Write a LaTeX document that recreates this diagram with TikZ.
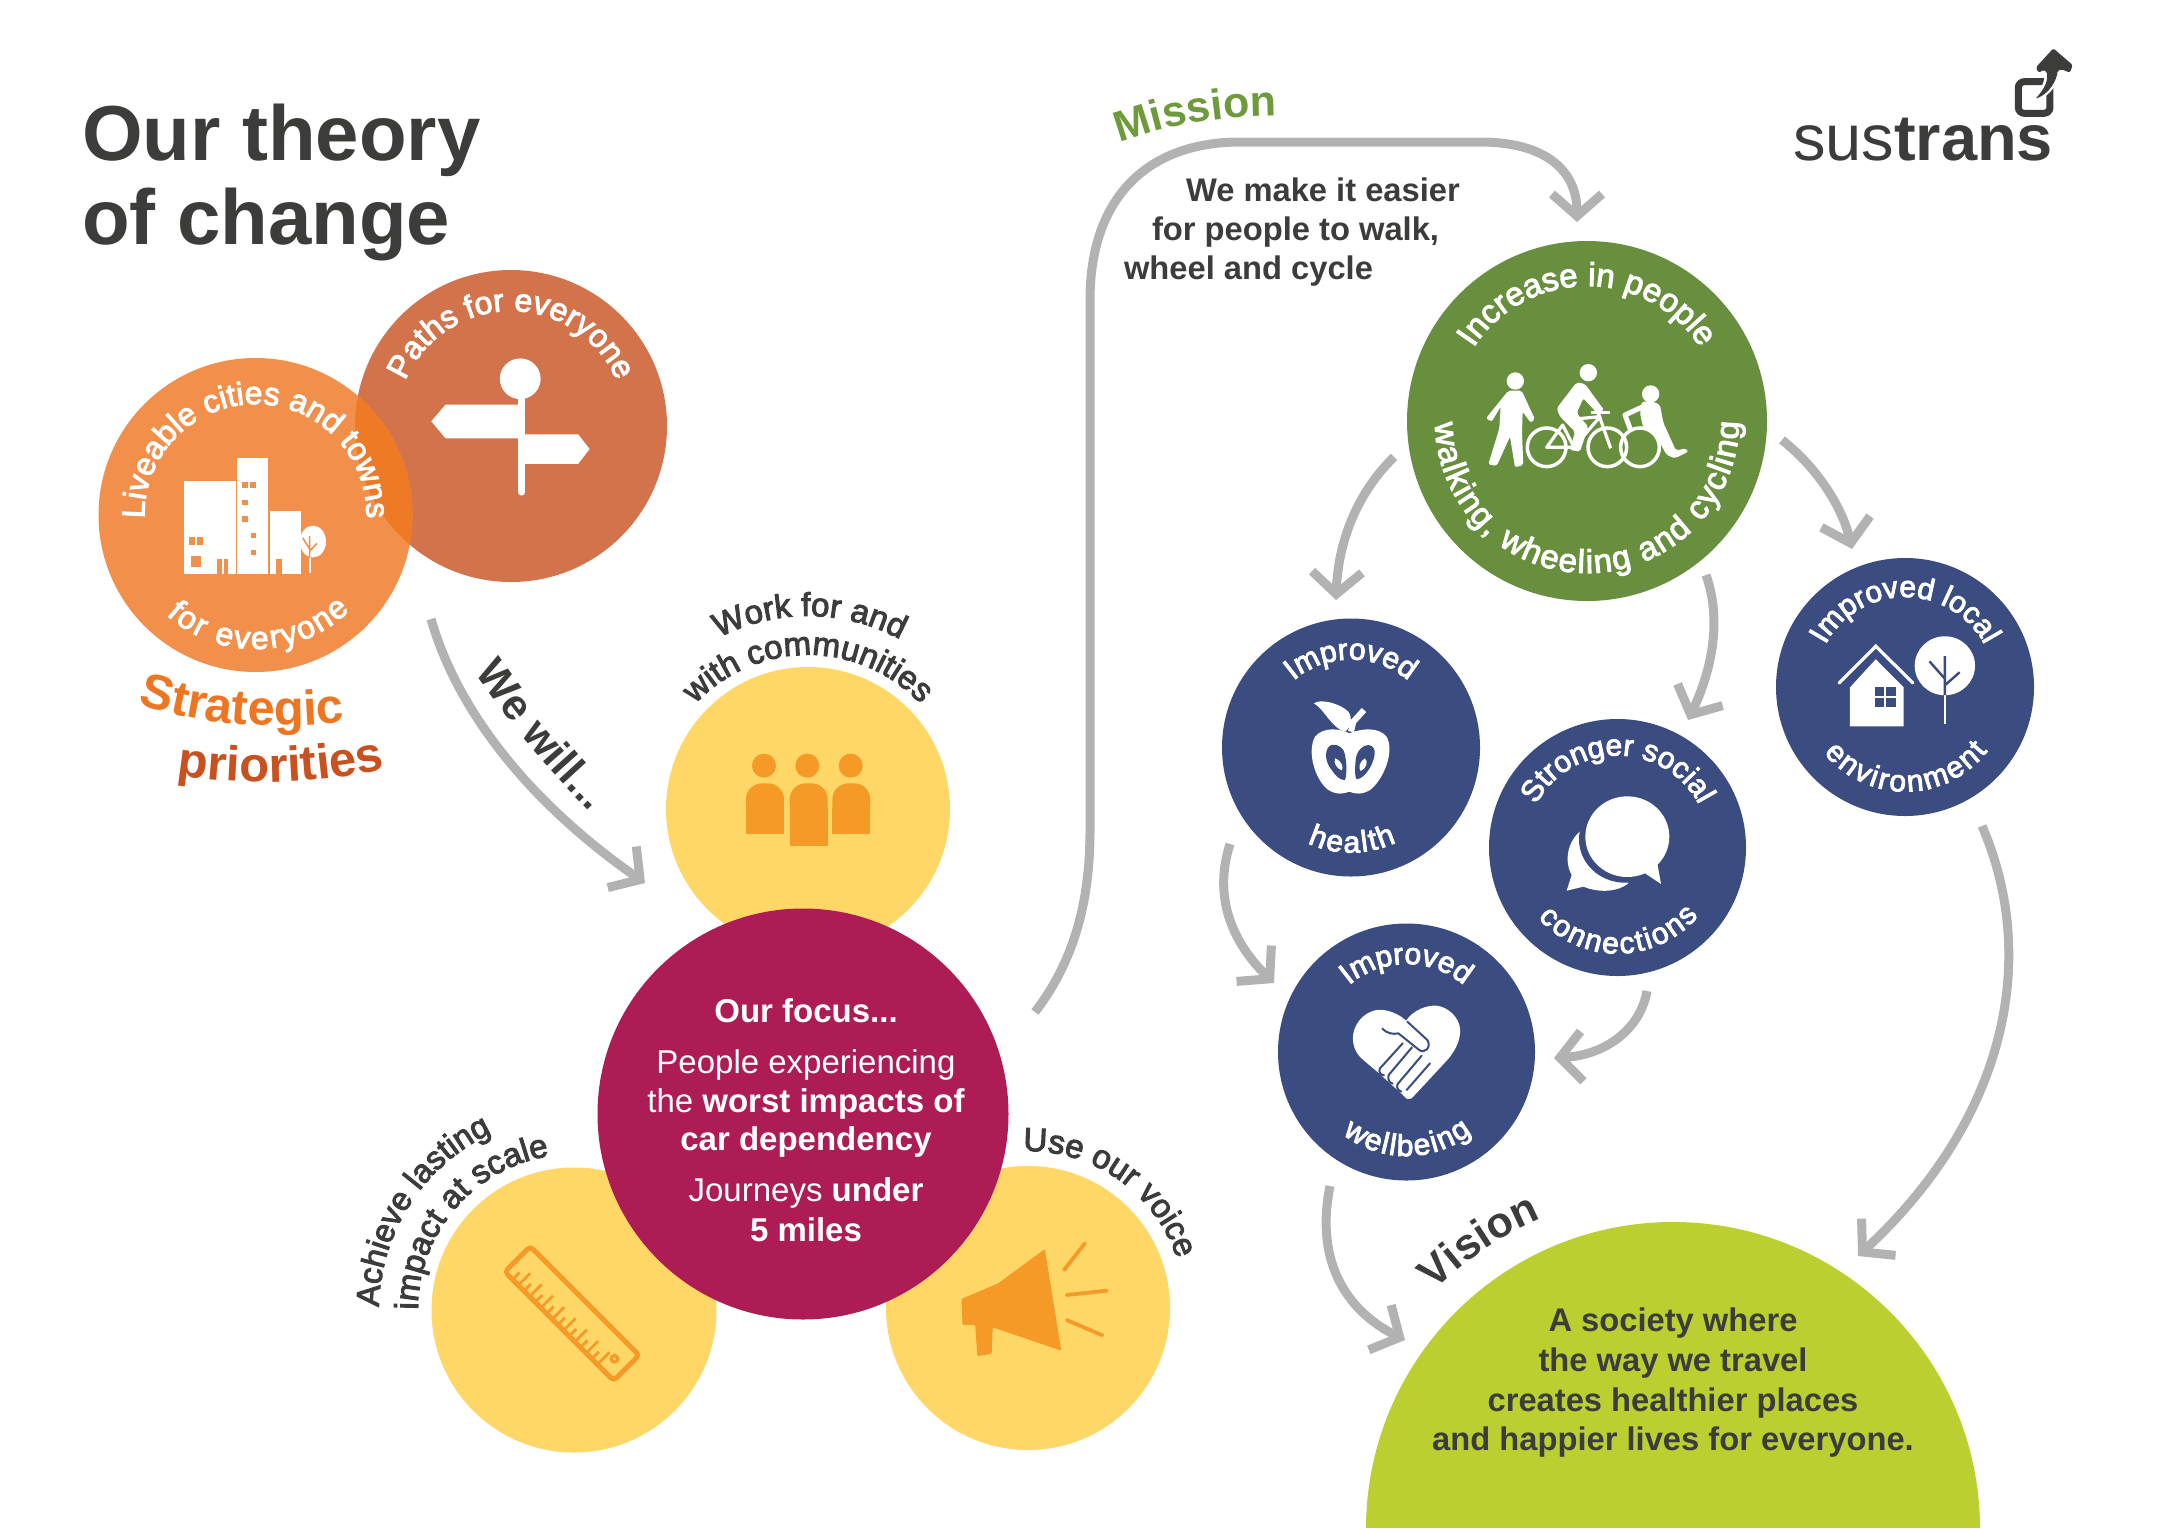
\documentclass[tikz,border=0pt]{standalone}
\usepackage{fontspec}
\setmainfont{Liberation Sans}
\newfontfamily\medf[FakeBold=3]{Liberation Sans}
\usetikzlibrary{arrows.meta,decorations.text}
\definecolor{inkdark}{HTML}{3C3C3B}
\definecolor{liveable}{HTML}{F28F4A}
\definecolor{pathsc}{HTML}{D2734B}
\definecolor{overlapc}{HTML}{EE7A26}
\definecolor{stratA}{HTML}{EE7623}
\definecolor{stratB}{HTML}{C9501F}
\definecolor{yellowc}{HTML}{FED767}
\definecolor{iconor}{HTML}{F59A26}
\definecolor{maroonc}{HTML}{AD1C54}
\definecolor{bluec}{HTML}{3A4C80}
\definecolor{greenc}{HTML}{678F3D}
\definecolor{missionc}{HTML}{6E9A3B}
\definecolor{limec}{HTML}{BBD030}
\definecolor{greyc}{HTML}{B2B2B2}
\newcommand\fz[1]{\fontsize{#1}{#1}\selectfont}
\newcommand\arcTop[7]{\path[x=1pt,y=1pt,decorate,decoration={text along path,text align=center,text={|\color{#6}#5|#7}}] ({#1+#3*cos(#4+110)},{-(#2)+#3*sin(#4+110)}) arc[start angle={#4+110},end angle={#4-110},radius=#3];}
\newcommand\arcBot[7]{\path[x=1pt,y=1pt,decorate,decoration={text along path,text align=center,text={|\color{#6}#5|#7}}] ({#1+#3*cos(#4-110)},{-(#2)+#3*sin(#4-110)}) arc[start angle={#4-110},end angle={#4+110},radius=#3];}
\tikzset{
 bubble/.style={circle,inner sep=0pt,outer sep=0pt,minimum size=#1},
 flow/.style={draw=greyc,line width=9pt,line cap=butt,-{Straight Barb[length=22pt,width=50pt]}},
 lbl/.style={inner sep=0pt,outer sep=0pt,text=inkdark,anchor=base west},
 focustxt/.style={inner sep=0pt,outer sep=0pt,text=white,anchor=base},
 visiontxt/.style={inner sep=0pt,outer sep=0pt,text=inkdark,anchor=base,font=\bfseries\fz{32.7}},
}
\begin{document}
\begin{tikzpicture}[x=1pt,y=-1pt]
\useasboundingbox (0,0) rectangle (2160,1529);
\fill[white] (0,0) rectangle (2160,1529);

% title
\node[lbl,font=\bfseries\fz{78}] (title1) at (82,160) {Our theory};
\node[lbl,font=\bfseries\fz{78}] (title2) at (82,244) {of change};

% strategic circles
\node[bubble=312pt,fill=pathsc] (paths) at (511,426) {};
\node[bubble=314pt,fill=liveable] (live) at (255.5,515) {};
\begin{scope}
\clip (255.5,515) circle[radius=157];
\fill[overlapc] (511,426) circle[radius=156];
\end{scope}
\arcTop{511}{426}{115}{90}{\medf\fz{32}}{white}{Paths for everyone}
\arcTop{255.5}{515}{111}{90}{\medf\fz{32}}{white}{Liveable cities and towns}
\arcBot{255.5}{515}{134}{271}{\medf\fz{32}\kern2.2pt}{white}{for everyone}

% signpost icon
\begin{scope}[shift={(60,240)},xscale=0.408,yscale=0.37]
\fill[white] (1128,375) ellipse[x radius=50,y radius=55];
\draw[white,line width=6.5pt,line cap=round] (1131,400) -- (1131,682);
\fill[white] (910,490) -- (945,445) -- (1122,445) -- (1122,536) -- (945,536) -- cycle;
\fill[white] (1135,525) -- (1270,525) -- (1298,565) -- (1270,605) -- (1135,605) -- cycle;
\end{scope}

% buildings icon
\begin{scope}[shift={(60,240)},xscale=0.408,yscale=0.37]
\fill[white] (305,652) rectangle (431,902);
\fill[white] (435,588) rectangle (510,902);
\fill[white] (515,732) rectangle (590,902);
\fill[white] (620,815) ellipse[x radius=32,y radius=43];
\draw[white,line width=2pt] (612,850) -- (612,900);
\draw[liveable,line width=1.5pt] (612,860) -- (612,800) (612,835) -- (595,805) (612,840) -- (630,820);
\foreach \xa/\ya/\xb/\yb in {317/802/331/825,336/802/350/825,320/855/345/885,385/862/396/902,401/862/412/902,447/655/461/670,466/655/480/670,447/702/460/715,447/747/460/762,467/792/480/805,467/838/480/852,530/862/545/902}
 \fill[liveable] (\xa,\ya) rectangle (\xb,\yb);
\end{scope}

% strategic priorities
\path[decorate,decoration={text along path,text align=center,text={|\color{stratA}\bfseries\fz{49}|Strategic}}]
 (131,702) .. controls (190,722) and (262,732) .. (352,721);
\path[decorate,decoration={text along path,text align=center,text={|\color{stratB}\bfseries\fz{49}|priorities}}]
 (170,774) .. controls (240,787) and (322,784) .. (392,767);

% we will
\coordinate (wewillS) at (431,619);
\coordinate (wewillE) at (645,883);
\draw[flow] (wewillS) .. controls (460,720) and (540,810) .. (wewillE);
\path[decorate,decoration={text along path,text align=center,text={|\color{inkdark}\bfseries\fz{43}|We will...}}]
 (470,666) .. controls (510,725) and (550,772) .. (596,818);

% yellow circles
\node[bubble=284pt,fill=yellowc] (work) at (808,809) {};
\node[bubble=285pt,fill=yellowc] (achieve) at (574,1310) {};
\node[bubble=284pt,fill=yellowc] (voice) at (1028,1308) {};
\node[bubble=411pt,fill=maroonc] (focus) at (803,1114) {};

% yellow labels
\arcTop{808}{809}{193}{89.5}{\medf\fz{33}}{inkdark}{Work for and}
\arcTop{808}{809}{154}{90}{\medf\fz{33}}{inkdark}{with communities}
\arcTop{574}{1310}{195}{147}{\medf\fz{32.5}}{inkdark}{Achieve lasting}
\arcTop{574}{1310}{156}{139.5}{\medf\fz{33}}{inkdark}{impact at scale}
\arcTop{1028}{1308}{157}{55}{\medf\fz{33}}{inkdark}{Use our voice}

% people icon
\begin{scope}[shift={(640,580)},scale=0.3333]
\fill[iconor] (372,557) circle[radius=36] (502,557) circle[radius=36] (632,557) circle[radius=36];
\fill[iconor,rounded corners=16pt] (318,720) -- (318,610) -- (432,610) -- (432,720) -- cycle;
\fill[iconor] (318,680) rectangle (432,763);
\fill[iconor,rounded corners=16pt] (449,720) -- (449,610) -- (563,610) -- (563,720) -- cycle;
\fill[iconor] (449,680) rectangle (563,798);
\fill[iconor,rounded corners=16pt] (577,720) -- (577,610) -- (691,610) -- (691,720) -- cycle;
\fill[iconor] (577,680) rectangle (691,763);
\end{scope}

% ruler icon
\begin{scope}[shift={(572,1313.5)},rotate=-45]
\draw[iconor,line width=5pt,rounded corners=4pt] (-77,-18) rectangle (77,18);
\foreach \t [count=\i] in {-66,-58,...,54}
 {\pgfmathsetmacro\yy{ifthenelse(mod(\i,2)==0,1,8)}
  \draw[iconor,line width=2.8pt] (\t,18) -- (\t,\yy);}
\fill[iconor] (62,2) circle[radius=5];
\fill[yellowc] (62,2) circle[radius=1.8];
\end{scope}

% megaphone icon
\begin{scope}[shift={(340,1100)},xscale=0.5485,yscale=0.3333]
\fill[iconor,rounded corners=1pt] (1285,447) -- (1315,752) -- (1190,682) -- (1188,762) -- (1162,768) -- (1158,675) -- (1135,675) -- (1133,597) -- (1200,550) -- cycle;
\draw[iconor,line width=3.8pt,line cap=round] (1320,510) -- (1358,430) (1325,585) -- (1398,572) (1325,660) -- (1390,706);
\end{scope}

% focus text
\node[focustxt,font=\bfseries\fz{33}] (f1) at (806,1022) {Our focus...};
\node[focustxt,font=\fz{33}] (f2) at (806,1073) {People experiencing};
\node[focustxt,font=\fz{33}] (f3) at (806,1112) {the \textbf{worst impacts of}};
\node[focustxt,font=\bfseries\fz{33}] (f4) at (806,1150) {car dependency};
\node[focustxt,font=\fz{33}] (f5) at (806,1201) {Journeys \textbf{under}};
\node[focustxt,font=\bfseries\fz{33}] (f6) at (806,1241) {5 miles};

% mission
\coordinate (missS) at (1035,1012);
\coordinate (missE) at (1577,222);
\draw[flow] (missS) .. controls (1075,960) and (1090,900) .. (1090,830) -- (1090,300) .. controls (1090,195) and (1150,142) .. (1240,142) -- (1480,142) .. controls (1545,142) and (1577,170) .. (missE);
\path[decorate,decoration={text along path,text align=center,text={|\color{missionc}\bfseries\fz{43}|Mission}}]
 (1111,146) .. controls (1164,125) and (1224,115) .. (1286,116);
\node[lbl,font=\bfseries\fz{32.7}] (m1) at (1186,201) {We make it easier};
\node[lbl,font=\bfseries\fz{32.7}] (m2) at (1152,240) {for people to walk,};
\node[lbl,font=\bfseries\fz{32.7}] (m3) at (1124,279) {wheel and cycle};

% green circle
\node[bubble=360pt,fill=greenc] (incr) at (1587,421) {};
\arcTop{1587}{421}{135}{90}{\medf\fz{33}}{white}{Increase in people}
\arcBot{1587}{421}{152}{270}{\medf\fz{33}\kern1.5pt}{white}{walking, wheeling and cycling}

% cyclists icon
\begin{scope}[shift={(1380,220)},scale=0.3333]
\fill[white] (406,483) circle[radius=26] (625,458) circle[radius=26] (812,522) circle[radius=26];
% walker
\fill[white,rounded corners=2pt] (385,512) -- (425,512) -- (465,598) -- (452,608) -- (428,575) -- (426,640) -- (430,735) -- (405,742) -- (390,650) -- (350,738) -- (325,733) -- (358,625) -- (362,560) -- (335,605) -- (318,595) -- cycle;
% bike
\draw[white,line width=3.5pt] (500,682) circle[radius=58] (682,682) circle[radius=58];
\draw[white,line width=3.2pt,line join=round] (500,682) -- (548,615) -- (582,682) -- cycle;
\draw[white,line width=3.2pt,line join=round] (555,600) -- (660,590) -- (582,682);
\draw[white,line width=3.2pt] (655,580) -- (692,685);
\draw[white,line width=3.2pt] (632,577) -- (690,577);
% rider
\fill[white,rounded corners=2pt] (590,487) -- (615,492) -- (672,570) -- (650,578) -- (610,535) -- (590,580) -- (625,620) -- (600,695) -- (570,690) -- (585,635) -- (540,590) -- (530,565) -- cycle;
% wheelchair
\draw[white,line width=3.5pt] (780,682) circle[radius=58];
\fill[white,rounded corners=2pt] (785,545) -- (820,545) -- (840,555) -- (850,608) -- (888,692) -- (918,685) -- (925,695) -- (885,715) -- (860,705) -- (825,640) -- (790,625) -- (780,580) -- cycle;
\draw[white,line width=5pt,line cap=round,line join=round] (785,562) -- (735,585) -- (750,625);
\end{scope}

% arrows on the right
\coordinate (ihS) at (1394,457); \coordinate (ihE) at (1336,600);
\draw[flow] (ihS) .. controls (1355,495) and (1338,545) .. (ihE);
\coordinate (isS) at (1706,575); \coordinate (isE) at (1688,720);
\draw[flow] (isS) .. controls (1722,620) and (1712,670) .. (isE);
\coordinate (ieS) at (1782,440); \coordinate (ieE) at (1852,549);
\draw[flow] (ieS) .. controls (1820,470) and (1843,510) .. (ieE);
\coordinate (hwS) at (1230,844); \coordinate (hwE) at (1274,983);
\draw[flow] (hwS) .. controls (1212,900) and (1235,945) .. (hwE);
\coordinate (swS) at (1647,991); \coordinate (swE) at (1554,1058);
\draw[flow] (swS) .. controls (1640,1030) and (1605,1055) .. (swE);
\coordinate (evS) at (1982,826); \coordinate (evE) at (1858,1256);
\draw[flow] (evS) .. controls (2040,960) and (2005,1120) .. (evE);
\coordinate (wvS) at (1330,1186); \coordinate (wvE) at (1405,1340);
\draw[flow] (wvS) .. controls (1315,1260) and (1345,1310) .. (wvE);

% blue circles
\node[bubble=258pt,fill=bluec] (health) at (1351,747.5) {};
\node[bubble=257pt,fill=bluec] (social) at (1617.5,847.5) {};
\node[bubble=258pt,fill=bluec] (env) at (1905,687) {};
\node[bubble=257pt,fill=bluec] (well) at (1406.5,1052) {};
\arcTop{1351}{747.5}{88}{90}{\medf\fz{30}}{white}{Improved}
\arcBot{1351}{747.5}{105}{270}{\medf\fz{30}\kern2pt}{white}{health}
\arcTop{1617.5}{847.5}{92}{90}{\medf\fz{30}}{white}{Stronger social}
\arcBot{1617.5}{847.5}{106}{270}{\medf\fz{30}\kern2.2pt}{white}{connections}
\arcTop{1905}{687}{90}{90}{\medf\fz{30}}{white}{Improved local}
\arcBot{1905}{687}{104.5}{270}{\medf\fz{30}\kern2.3pt}{white}{environment}
\arcTop{1406.5}{1052}{88}{90}{\medf\fz{30}}{white}{Improved}
\arcBot{1406.5}{1052}{104}{270}{\medf\fz{30}\kern1.8pt}{white}{wellbeing}

% apple
\begin{scope}[shift={(1290,690)},scale=0.3333]
\fill[white] (178,130) .. controls (150,115) and (100,110) .. (75,140) .. controls (50,185) and (75,270) .. (115,300) .. controls (140,315) and (160,312) .. (178,305) .. controls (195,312) and (215,315) .. (240,300) .. controls (280,270) and (315,185) .. (290,140) .. controls (265,110) and (215,115) .. (178,130) -- cycle;
\fill[bluec] (125,165) .. controls (105,170) and (100,210) .. (125,240) .. controls (135,255) and (150,272) .. (165,270) .. controls (172,250) and (170,200) .. (160,180) .. controls (150,167) and (140,163) .. (125,165) -- cycle;
\fill[bluec] (235,165) .. controls (220,165) and (200,180) .. (197,210) .. controls (194,240) and (195,265) .. (200,268) .. controls (220,265) and (240,240) .. (250,210) .. controls (260,180) and (250,165) .. (235,165) -- cycle;
\fill[white] (135,205) .. controls (160,215) and (160,235) .. (155,241) .. controls (140,235) and (130,220) .. (135,205) -- cycle;
\fill[white] (225,205) .. controls (205,218) and (206,235) .. (212,243) .. controls (230,235) and (235,215) .. (225,205) -- cycle;
\fill[white] (72,40) .. controls (90,25) and (150,40) .. (175,65) .. controls (190,85) and (180,115) .. (165,125) .. controls (125,115) and (105,60) .. (72,40) -- cycle;
\draw[white,line width=6pt,line join=round] (183,125) -- (190,95) -- (222,60);
\end{scope}

% speech bubbles
\begin{scope}[shift={(1550,780)},scale=0.3333]
\fill[white] (95,150) .. controls (55,180) and (40,240) .. (65,285) -- (50,332) -- (100,320) .. controls (150,340) and (205,335) .. (235,310) -- (200,200) -- cycle;
\fill[bluec] (225,178) ellipse[x radius=138,y radius=130];
\fill[white] (232,170) ellipse[x radius=126,y radius=121];
\fill[white] (285,280) -- (333,312) -- (322,250) -- cycle;
\end{scope}

% heart hands
\begin{scope}[shift={(1330,990)},scale=0.3333]
\fill[white] (228,92) .. controls (250,60) and (290,45) .. (320,47) .. controls (370,55) and (395,100) .. (390,130) .. controls (388,165) and (365,195) .. (350,212) -- (245,325) .. controls (238,330) and (228,328) .. (222,318) -- (145,248) -- (100,210) .. controls (75,190) and (65,160) .. (70,130) .. controls (78,90) and (110,65) .. (140,60) .. controls (170,57) and (205,70) .. (228,92) -- cycle;
\draw[bluec,line width=2pt,line cap=round,line join=round] (232,95) -- (292,150) .. controls (305,170) and (285,195) .. (265,178) -- (205,130) .. controls (190,134) and (170,130) .. (157,116);
\draw[bluec,line width=2pt,line cap=round,line join=round] (218,160) -- (150,235) .. controls (145,245) and (150,255) .. (162,256);
\draw[bluec,line width=2pt,line cap=round,line join=round] (246,172) -- (176,255) .. controls (172,268) and (178,278) .. (188,281);
\draw[bluec,line width=2pt,line cap=round,line join=round] (275,197) -- (203,282) .. controls (198,292) and (204,302) .. (214,305);
\draw[bluec,line width=2pt,line cap=round] (300,220) -- (230,300);
\end{scope}

% house and tree
\begin{scope}[shift={(1200,540)},xscale=0.5485,yscale=0.4336]
\fill[white] (1185,340) -- (1232,275) -- (1283,340) -- (1283,430) -- (1185,430) -- cycle;
\draw[white,line width=3.2pt,line cap=round,line join=miter] (1165,330) -- (1232,245) -- (1300,330);
\fill[bluec] (1230,340) rectangle (1268,385);
\draw[white,line width=1.6pt] (1249,340) -- (1249,385) (1230,362) -- (1268,362);
\fill[white] (1358,290) ellipse[x radius=55,y radius=68];
\draw[white,line width=2.4pt] (1358,358) -- (1358,425);
\draw[bluec,line width=2.4pt] (1358,268) -- (1358,358) (1330,280) -- (1358,320) (1385,305) -- (1358,335);
\end{scope}

% vision
\begin{scope}
\clip (0,0) rectangle (2160,1527);
\node[bubble=614pt,fill=limec] (vision) at (1673,1529) {};
\end{scope}
\arcTop{1673}{1529}{337}{124}{\bfseries\fz{43}}{inkdark}{Vision}
\node[visiontxt] (v1) at (1673,1331) {A society where};
\node[visiontxt] (v2) at (1673,1371) {the way we travel};
\node[visiontxt] (v3) at (1673,1411) {creates healthier places};
\node[visiontxt] (v4) at (1673,1450) {and happier lives for everyone.};

% logo
\node[lbl,font=\fz{65}] (logo) at (1793,160) {sus\textbf{trans}};
\begin{scope}[shift={(1760,30)},scale=0.3333]
\draw[inkdark,line width=7pt,rounded corners=6pt] (775,155) rectangle (870,250);
\path[draw=white,line width=5pt,line join=round] (880,55) -- (938,105) -- (930,128) -- (905,118) -- (893,122) .. controls (890,150) and (870,190) .. (826,207) .. controls (855,175) and (865,150) .. (860,125) -- (852,120) -- (835,128) -- (828,112) -- cycle;
\fill[inkdark,rounded corners=1.5pt] (880,55) -- (938,105) -- (930,128) -- (905,118) -- (893,122) .. controls (890,150) and (870,190) .. (826,207) .. controls (855,175) and (865,150) .. (860,125) -- (852,120) -- (835,128) -- (828,112) -- cycle;
\end{scope}
\end{tikzpicture}
\end{document}
